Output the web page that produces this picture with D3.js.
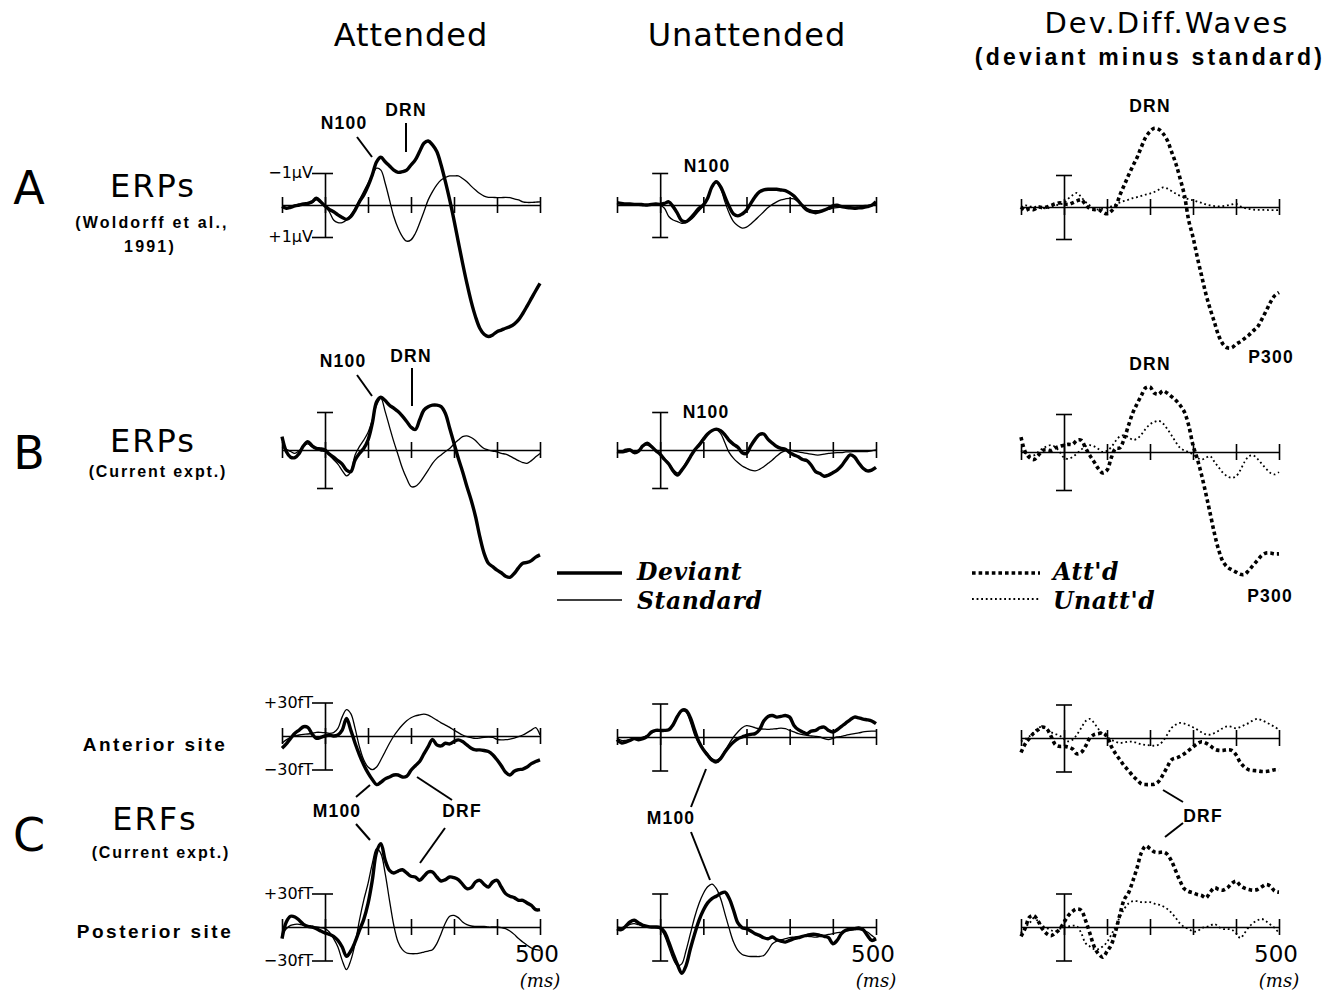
<!DOCTYPE html>
<html>
<head>
<meta charset="utf-8">
<script src="https://cdn.jsdelivr.net/npm/d3@7"></script>
<style>
  body { margin: 0; background: #fff; }
  svg text { fill: #000; }
</style>
</head>
<body>
<svg id="chart" width="1335" height="992"></svg>
<script>
// Sample times (ms) shared by every waveform, and the time-axis ticks
const times = [-100,-90,-80,-70,-60,-50,-40,-30,-20,-10,0,10,20,30,40,50,60,70,80,90,
  100,110,120,130,140,150,160,170,180,190,200,210,220,230,240,250,260,270,280,290,
  300,310,320,330,340,350,360,370,380,390,400,410,420,430,440,450,460,470,480,490,500];
const tickTimes = [-100, 0, 100, 200, 300, 400, 500];

const columnTitles = ["Attended", "Unattended"];

// Row A: ERPs (Woldorff et al., 1991), microvolts, negative up
const erpA_att_dev = [0.05,0.10,0.07,0.03,0,-0.03,-0.05,-0.10,-0.21,-0.10,
  0.03,0.14,0.21,0.31,0.39,0.45,0.36,0.16,-0.10,-0.31,
  -0.59,-0.94,-1.35,-1.49,-1.35,-1.22,-1.09,-1.02,-1.04,-1.09,
  -1.25,-1.41,-1.67,-1.93,-2.00,-1.88,-1.67,-1.25,-0.73,-0.16,
  0.47,1.15,1.82,2.45,3.02,3.49,3.85,4.04,4.11,4.06,
  3.96,3.91,3.85,3.80,3.72,3.59,3.39,3.16,2.92,2.68,2.45];
const erpA_att_std = [0.05,0.10,0.05,0,-0.03,0,-0.03,-0.07,-0.16,-0.07,
  0.03,0.21,0.47,0.55,0.55,0.47,0.31,0.10,-0.16,-0.42,
  -0.68,-0.94,-1.15,-1.09,-0.68,-0.16,0.36,0.73,0.99,1.13,
  1.09,0.89,0.57,0.21,-0.16,-0.42,-0.63,-0.78,-0.86,-0.91,
  -0.91,-0.91,-0.83,-0.73,-0.59,-0.47,-0.36,-0.28,-0.24,-0.24,
  -0.23,-0.23,-0.24,-0.23,-0.19,-0.16,-0.10,-0.08,-0.08,-0.09,-0.10];
const erpA_unatt_dev = [-0.07,-0.05,-0.03,-0.03,-0.02,-0.02,-0.01,0,-0.02,-0.03,
  -0.02,-0.05,-0.10,0.05,0.26,0.49,0.52,0.41,0.26,0.10,
  0,-0.21,-0.57,-0.73,-0.57,-0.26,0.05,0.28,0.34,0.28,
  0.16,-0.05,-0.26,-0.41,-0.47,-0.49,-0.49,-0.49,-0.47,-0.45,
  -0.38,-0.28,-0.13,0.03,0.16,0.21,0.24,0.21,0.16,0.10,
  0.03,0.01,0.05,0.07,0.09,0.10,0.09,0.08,0.05,0.01,-0.10];
const erpA_unatt_std = [-0.05,-0.03,-0.02,-0.02,-0.01,-0.01,0,0.01,0.01,0,
  0.01,0.10,0.36,0.47,0.52,0.57,0.55,0.47,0.34,0.18,
  0.03,-0.24,-0.57,-0.69,-0.52,-0.10,0.26,0.52,0.65,0.72,
  0.69,0.59,0.47,0.34,0.21,0.08,-0.02,-0.10,-0.16,-0.19,
  -0.21,-0.19,-0.10,0,0.10,0.16,0.18,0.17,0.16,0.14,
  0.10,0.08,0.07,0.05,0.04,0.03,0.03,0.02,0.01,0,0];
const erpA_diff_att = [0,0.10,0.05,0.08,0,0.02,0,-0.05,-0.10,-0.13,
  -0.10,-0.08,-0.13,-0.19,-0.23,-0.08,0.05,0.08,0.08,0.16,
  0.21,0.13,-0.02,-0.37,-0.68,-0.99,-1.28,-1.55,-1.88,-2.18,
  -2.36,-2.46,-2.43,-2.30,-2.09,-1.73,-1.36,-0.89,-0.37,0.42,
  0.94,1.57,2.15,2.72,3.19,3.61,4.03,4.29,4.40,4.40,
  4.29,4.21,4.11,4.00,3.87,3.75,3.51,3.25,2.98,2.77,2.67];
const erpA_diff_unatt = [0,-0.05,-0.02,0,-0.02,0.02,0.05,-0.02,-0.05,-0.08,
  -0.13,-0.26,-0.37,-0.44,-0.31,-0.16,-0.05,0.05,0.08,0.05,
  0.02,-0.02,-0.08,-0.14,-0.19,-0.23,-0.28,-0.31,-0.35,-0.39,
  -0.42,-0.47,-0.54,-0.61,-0.58,-0.50,-0.42,-0.35,-0.29,-0.24,
  -0.21,-0.17,-0.13,-0.08,-0.05,-0.03,-0.02,-0.03,-0.05,-0.08,
  -0.10,-0.02,0.03,0.06,0.08,0.09,0.09,0.09,0.10,0.10,0.10];

// Row B: ERPs (current experiment), microvolts, negative up
const erpB_att_dev = [-0.35,0.04,0.19,0.20,0.09,-0.11,-0.22,-0.11,-0.04,-0.03,
  0,0.11,0.19,0.28,0.37,0.53,0.57,0.26,0.09,-0.04,
  -0.26,-0.70,-1.27,-1.39,-1.30,-1.18,-1.10,-1.01,-0.89,-0.75,
  -0.60,-0.54,-0.79,-1.05,-1.14,-1.18,-1.18,-1.14,-0.96,-0.57,
  -0.18,0.22,0.57,0.96,1.32,1.75,2.28,2.72,2.98,3.07,
  3.16,3.23,3.32,3.35,3.25,3.10,2.98,2.96,2.91,2.82,2.76];
const erpB_att_std = [-0.07,-0.02,0.04,0.09,0.02,-0.11,-0.16,-0.09,-0.02,0.02,
  0.04,0.13,0.25,0.37,0.54,0.68,0.57,0.13,-0.09,-0.26,
  -0.46,-0.79,-1.18,-1.36,-1.01,-0.61,-0.22,0.13,0.48,0.75,
  0.96,0.96,0.86,0.70,0.53,0.35,0.22,0.13,0.04,-0.04,
  -0.16,-0.26,-0.35,-0.37,-0.33,-0.25,-0.13,-0.04,0,0.03,
  0.05,0.09,0.11,0.16,0.22,0.28,0.33,0.35,0.28,0.18,0.09];
const erpB_unatt_dev = [0.04,0.05,0.03,0,0.07,0.03,-0.11,-0.18,-0.09,0.02,
  0.11,0.25,0.37,0.55,0.66,0.53,0.37,0.18,0,-0.13,
  -0.28,-0.42,-0.51,-0.55,-0.51,-0.40,-0.25,-0.15,-0.07,0.07,
  0.09,-0.11,-0.28,-0.41,-0.42,-0.28,-0.18,-0.09,-0.04,-0.02,
  0.07,0.13,0.18,0.25,0.28,0.40,0.57,0.62,0.69,0.66,
  0.60,0.53,0.42,0.26,0.13,0.18,0.34,0.48,0.55,0.53,0.46];
const erpB_unatt_std = [0.04,0.03,-0.02,-0.02,0.04,0,-0.11,-0.13,-0.07,0.02,
  0.11,0.22,0.35,0.51,0.60,0.51,0.33,0.16,0,-0.16,
  -0.31,-0.44,-0.51,-0.53,-0.44,-0.19,0.07,0.22,0.33,0.42,
  0.48,0.53,0.55,0.51,0.44,0.35,0.26,0.16,0.07,0.02,
  0,0.03,0.05,0.07,0.09,0.11,0.13,0.13,0.11,0.09,
  0.08,0.07,0.07,0.05,0.05,0.04,0.04,0.04,0.04,0.02,0];
const erpB_diff_att = [-0.39,0,0.15,0.20,0.09,-0.04,-0.06,-0.04,-0.11,-0.15,
  -0.18,-0.20,-0.20,-0.31,-0.31,-0.11,0.09,0.26,0.44,0.55,
  0.48,0.15,-0.09,-0.11,-0.35,-0.70,-1.03,-1.27,-1.49,-1.69,
  -1.71,-1.55,-1.52,-1.61,-1.55,-1.46,-1.36,-1.23,-1.05,-0.70,
  -0.18,0.18,0.61,1.10,1.62,2.15,2.59,2.89,3.03,3.10,
  3.16,3.22,3.22,3.11,2.98,2.85,2.72,2.66,2.66,2.68,2.68];
const erpB_diff_unatt = [-0.04,0.03,0.09,0.09,0,-0.09,-0.15,-0.18,-0.13,0,
  0.15,0.18,0.13,0.04,-0.06,-0.15,-0.18,-0.15,-0.08,0,
  -0.03,-0.13,-0.29,-0.41,-0.44,-0.39,-0.32,-0.35,-0.46,-0.61,
  -0.73,-0.79,-0.82,-0.75,-0.61,-0.44,-0.26,-0.11,-0.04,0,
  0.06,0.15,0.20,0.15,0.11,0.26,0.41,0.55,0.64,0.68,
  0.64,0.48,0.26,0.11,0.09,0.18,0.31,0.44,0.55,0.59,0.53];

// Row C: ERFs (current experiment), femtotesla, positive up — anterior site
const erfAnt_att_dev = [-10.9,-7.1,-2.1,2.4,5.3,8.3,7.7,1.8,-2.1,-1.2,
  0,0.9,0,0.9,5.3,15.7,5.3,-6.5,-16.8,-25.7,
  -33.1,-39.0,-43.5,-41.4,-38.4,-36.7,-34.9,-34.9,-36.7,-36.1,
  -30.7,-26.6,-22.8,-16.0,-9.5,-3.0,-8.0,-8.9,-6.5,-7.1,
  -5.0,-3.5,-5.0,-8.0,-10.9,-12.4,-12.4,-13.0,-13.9,-16.8,
  -21.3,-26.6,-32.5,-34.9,-31.6,-30.2,-29.6,-27.8,-24.8,-22.8,-21.3];
const erfAnt_att_std = [-6.5,-3.5,-1.2,0,0.9,1.5,1.8,2.4,3.3,3.3,
  3.0,2.4,3.0,6.8,17.1,23.6,20.1,6.8,-9.5,-21.3,
  -27.8,-30.2,-27.8,-21.3,-13.9,-6.5,0,5.3,9.8,13.6,
  16.3,18.0,18.9,19.5,18.6,16.6,14.2,11.8,9.8,7.7,
  5.3,3.0,0.9,-0.6,-1.5,-2.1,-1.8,-1.2,-0.9,-1.2,
  -3.0,-3.5,-3.3,-2.7,-1.8,-0.6,0.9,3.0,5.3,7.4,0.9];
const erfAnt_unatt_dev = [-2.4,-5.3,-4.5,-3.0,-1.5,-2.4,-1.5,0.6,4.5,5.9,
  5.9,5.9,6.5,11.0,18.4,23.8,23.8,17.2,5.9,-4.5,
  -11.3,-16.3,-20.8,-22.3,-19.3,-13.4,-8.3,-4.5,-1.5,0,
  1.5,2.4,3.0,6.5,14.3,18.4,19.3,17.8,18.4,19.3,
  17.8,10.4,6.5,4.5,3.0,5.3,5.9,8.3,8.9,5.9,
  4.5,6.5,9.5,12.5,15.4,17.8,17.2,16.0,15.4,14.3,11.9];
const erfAnt_unatt_std = [-0.6,-3.0,-3.0,-2.4,-1.5,-0.9,0,1.5,3.6,5.3,
  5.9,5.9,6.5,11.9,19.3,23.8,22.3,13.4,1.5,-5.9,
  -10.4,-14.9,-19.3,-20.8,-18.4,-12.5,-5.9,0,4.5,8.3,
  10.1,9.5,8.3,7.4,7.1,6.8,7.1,7.4,8.0,7.4,
  5.9,4.5,3.0,2.1,1.5,0.9,0.6,0,-1.5,-2.4,
  -1.2,0,0.6,1.5,2.4,3.0,3.6,4.5,5.0,5.3,5.3];
const erfAnt_diff_att = [-12.9,-5.1,0,4.5,7.5,9.9,8.1,1.5,-6.0,-7.5,
  -7.5,-8.1,-9.9,-14.1,-12.9,-7.5,0,3.0,3.9,4.5,
  1.5,-7.5,-14.1,-19.5,-24.9,-29.1,-33.9,-37.5,-41.1,-41.7,
  -41.7,-41.4,-39.0,-33.0,-26.1,-19.5,-18.0,-16.5,-14.1,-11.1,
  -8.1,-5.1,-3.3,-4.5,-6.9,-9.9,-11.1,-11.1,-10.5,-11.1,
  -15.0,-21.9,-26.1,-28.5,-29.1,-29.4,-30.0,-30.0,-29.4,-28.5,-28.5];
const erfAnt_diff_unatt = [-3.0,-0.9,1.5,5.1,9.0,9.9,7.5,5.1,3.6,2.1,
  -0.9,-3.0,-1.5,3.0,9.0,15.0,17.1,13.5,8.1,3.9,
  0.9,-1.5,-3.3,-4.5,-3.9,-3.3,-3.3,-4.5,-5.7,-6.3,
  -6.6,-6.9,-6.0,-3.0,3.0,9.0,12.0,13.5,12.9,11.4,
  9.6,7.5,5.1,3.3,3.0,4.5,6.6,9.0,10.5,9.9,
  8.7,9.9,11.7,13.5,15.9,17.1,15.9,14.1,12.0,9.9,7.5];

// Row C: posterior site
const erfPost_att_dev = [-10.4,4.5,9.6,9.0,6.0,2.4,0.6,0,-1.5,-3.6,
  -5.4,-6.6,-8.4,-11.9,-17.9,-26.3,-21.5,-13.4,-3.0,6.6,
  20.9,41.8,67.2,74.6,59.7,50.7,48.4,50.1,51.3,48.4,
  45.4,44.8,41.8,45.4,49.3,49.3,44.8,41.2,42.4,44.8,
  44.2,42.4,38.2,34.3,35.2,40.3,41.8,38.2,35.8,40.3,
  41.8,35.8,29.9,27.5,26.3,23.9,23.9,21.5,19.4,15.5,15.5];
const erfPost_att_std = [-6.6,-1.5,1.5,2.4,2.4,1.5,0.6,0,0,-0.6,
  -1.5,-4.5,-10.4,-17.9,-29.9,-38.2,-29.9,-14.9,6.0,23.9,
  38.8,56.7,70.1,65.7,47.8,23.9,1.5,-13.4,-20.3,-23.3,
  -23.9,-23.9,-23.3,-22.4,-21.5,-20.3,-14.9,-6.0,3.6,9.6,
  10.4,8.4,4.5,2.1,0.9,0.6,0.6,0.6,0,0,
  0,-0.6,-1.5,-3.6,-6.6,-10.4,-13.4,-16.4,-18.8,-20.3,-20.9];
const erfPost_unatt_dev = [-1.5,-2.4,0.6,4.5,6.0,3.6,1.5,0.6,0,0,
  -0.6,-4.5,-13.5,-24.0,-33.6,-41.4,-34.5,-19.5,-6.0,6.0,
  15.0,21.6,25.5,27.6,30.0,31.2,25.5,15.0,3.6,-0.6,
  -1.5,-3.6,-6.0,-7.5,-9.6,-10.5,-9.0,-11.4,-12.6,-13.5,
  -12.0,-10.5,-9.6,-8.4,-7.5,-6.6,-6.6,-7.5,-8.4,-9.6,
  -15.0,-12.0,-6.0,-3.0,-1.8,-1.5,-0.9,-2.4,-7.5,-12.0,-10.5];
const erfPost_unatt_std = [0,-0.6,0.6,2.4,3.0,2.1,1.2,0.6,0,-0.6,
  -1.5,-7.5,-18.0,-28.5,-34.5,-33.0,-21.0,-6.0,9.0,21.0,
  30.0,36.0,38.4,34.5,25.5,12.0,-1.5,-13.5,-21.0,-24.6,
  -25.8,-26.4,-26.4,-26.4,-25.5,-21.0,-15.0,-12.6,-11.4,-10.5,
  -9.6,-9.0,-8.4,-8.4,-8.4,-8.7,-9.0,-8.4,-7.5,-6.6,
  -6.0,-5.1,-4.5,-3.6,-3.0,-2.4,-2.4,-3.0,-4.5,-7.5,-10.5];
const erfPost_diff_att = [-8.4,-0.9,9.0,10.2,5.1,-1.8,-6.0,-7.8,-5.4,-1.8,
  4.2,10.2,14.1,16.2,15.0,6.0,-5.4,-17.4,-24.0,-27.0,
  -21.9,-15.9,-3.9,11.1,24.6,30.6,41.1,53.1,66.6,72.6,
  70.2,67.2,66.6,67.2,65.1,59.1,50.1,41.1,34.2,31.8,
  30.6,29.1,28.2,26.1,31.2,35.1,33.6,33.0,35.1,39.0,
  41.1,37.2,34.8,33.6,33.0,33.6,36.0,38.1,36.6,32.1,31.2];
const erfPost_diff_unatt = [-5.4,0,3.6,8.1,5.1,1.2,-0.9,-3.0,-3.9,-1.8,
  0,0.6,1.2,0.6,-5.4,-14.4,-17.4,-19.8,-19.8,-17.4,
  -13.5,-6.9,0.6,9.0,16.2,21.0,23.1,23.1,22.2,22.2,
  22.2,21.0,20.1,18.6,16.2,12.6,8.1,3.0,0,-1.8,
  -3.9,-3.9,-0.9,0,1.2,2.7,0,-1.8,-1.8,-2.4,
  -5.4,-9.9,-5.4,0,3.6,6.0,7.2,5.1,2.1,-0.9,-5.4];

// ---------------------------------------------------------------------------
const svg = d3.select("#chart");
const SANS = "'DejaVu Sans', sans-serif";
const BOLD = "'Liberation Sans', Arial, sans-serif";
const SERIF = "'DejaVu Serif', serif";

// Horizontal extents of the three columns
const columns = [
  { x0: 282, x1: 540 },
  { x0: 617, x1: 876 },
  { x0: 1021, x1: 1279 }
];

// Vertical layout of the four panel rows (baseline per column, half-height of calibration bar)
const rows = [
  { unit: "uV", base: [205, 205, 207], half: 32,   cal: 1 },
  { unit: "uV", base: [450, 450, 452], half: 38,   cal: 1 },
  { unit: "fT", base: [736, 737, 738], half: 33.5, cal: 30 },
  { unit: "fT", base: [927, 927, 927], half: 33.5, cal: 30 }
];

const styles = {
  dev:   { width: 3.4, dash: null },
  std:   { width: 1.3, dash: null },
  att:   { width: 3.6, dash: "3.6,3" },
  unatt: { width: 1.8, dash: "1.8,2.8" }
};

const panels = [
  { row: 0, col: 0, series: [[erpA_att_std, "std"], [erpA_att_dev, "dev"]] },
  { row: 0, col: 1, series: [[erpA_unatt_std, "std"], [erpA_unatt_dev, "dev"]] },
  { row: 0, col: 2, series: [[erpA_diff_unatt, "unatt"], [erpA_diff_att, "att"]] },
  { row: 1, col: 0, series: [[erpB_att_std, "std"], [erpB_att_dev, "dev"]] },
  { row: 1, col: 1, series: [[erpB_unatt_std, "std"], [erpB_unatt_dev, "dev"]] },
  { row: 1, col: 2, series: [[erpB_diff_unatt, "unatt"], [erpB_diff_att, "att"]] },
  { row: 2, col: 0, series: [[erfAnt_att_std, "std"], [erfAnt_att_dev, "dev"]] },
  { row: 2, col: 1, series: [[erfAnt_unatt_std, "std"], [erfAnt_unatt_dev, "dev"]] },
  { row: 2, col: 2, series: [[erfAnt_diff_unatt, "unatt"], [erfAnt_diff_att, "att"]] },
  { row: 3, col: 0, series: [[erfPost_att_std, "std"], [erfPost_att_dev, "dev"]] },
  { row: 3, col: 1, series: [[erfPost_unatt_std, "std"], [erfPost_unatt_dev, "dev"]] },
  { row: 3, col: 2, series: [[erfPost_diff_unatt, "unatt"], [erfPost_diff_att, "att"]] }
];

panels.forEach(p => {
  const c = columns[p.col], r = rows[p.row];
  const base = r.base[p.col];
  const x = d3.scaleLinear().domain([-100, 500]).range([c.x0, c.x1]);
  // EEG plotted negative-up; MEG plotted positive-up
  const y = r.unit === "uV"
    ? d3.scaleLinear().domain([-r.cal, r.cal]).range([base - r.half, base + r.half])
    : d3.scaleLinear().domain([-r.cal, r.cal]).range([base + r.half, base - r.half]);

  const g = svg.append("g");

  // time axis with ticks crossing the baseline
  const xa = g.append("g").attr("transform", `translate(0,${y(0)})`)
    .call(d3.axisBottom(x).tickValues(tickTimes).tickSize(8).tickSizeOuter(0).tickFormat(""));
  xa.select(".domain").attr("stroke-width", 1.6);
  xa.selectAll(".tick line").attr("y1", -8).attr("stroke-width", 1.6);

  // calibration bar at stimulus onset
  const capL = (p.col === 0 && (p.row === 0 || p.row >= 2)) ? 13 : 8;
  const ya = g.append("g").attr("transform", `translate(${x(0)},0)`)
    .call(d3.axisLeft(y).tickValues([-r.cal, r.cal]).tickSize(capL).tickSizeOuter(0).tickFormat(""));
  ya.select(".domain").attr("stroke-width", 1.6);
  ya.selectAll(".tick line").attr("x1", 8).attr("stroke-width", 1.6);

  const line = d3.line()
    .x((d, i) => x(times[i]))
    .y(d => y(d))
    .curve(d3.curveCatmullRom.alpha(0.5));

  p.series.forEach(([vals, kind]) => {
    const s = styles[kind];
    g.append("path")
      .datum(vals)
      .attr("d", line)
      .attr("fill", "none")
      .attr("stroke", "#000")
      .attr("stroke-width", s.width)
      .attr("stroke-linejoin", "round")
      .attr("stroke-dasharray", s.dash);
  });

  // unit labels on the first column
  if (p.col === 0 && p.row !== 1) {
    const top = r.unit === "uV" ? "\u22121\u00b5V" : "+30fT";
    const bot = r.unit === "uV" ? "+1\u00b5V" : "\u221230fT";
    const yTop = r.unit === "uV" ? y(-r.cal) : y(r.cal);
    const yBot = r.unit === "uV" ? y(r.cal) : y(-r.cal);
    [[top, yTop], [bot, yBot]].forEach(([t, yy]) => {
      g.append("text").attr("x", x(0) - 12).attr("y", yy + 5)
        .attr("text-anchor", "end").attr("font-family", SANS)
        .attr("font-size", 16).text(t);
    });
  }

  // time-scale label under the bottom row
  if (p.row === 3) {
    g.append("text").attr("x", x(500) - 3).attr("y", 962)
      .attr("text-anchor", "middle").attr("font-family", SANS)
      .attr("font-size", 23).text("500");
    g.append("text").attr("x", x(500)).attr("y", 987)
      .attr("text-anchor", "middle").attr("font-family", SERIF)
      .attr("font-style", "italic").attr("font-size", 18).text("(ms)");
  }
});

// ---------------------------------------------------------------------------
// Column and row headings
function txt(x, y, s, size, opts = {}) {
  return svg.append("text").attr("x", x).attr("y", y)
    .attr("text-anchor", opts.anchor || "middle")
    .attr("font-family", opts.family || SANS)
    .attr("font-size", size)
    .attr("font-weight", opts.weight || "normal")
    .attr("font-style", opts.style || "normal")
    .attr("letter-spacing", opts.ls || 0)
    .text(s);
}

txt(411, 46, columnTitles[0], 32, { ls: 1 });
txt(747, 46, columnTitles[1], 32, { ls: 1 });
txt(1167, 33, "Dev.Diff.Waves", 29, { ls: 2 });
txt(1150, 65, "(deviant minus standard)", 23, { family: BOLD, weight: "bold", ls: 3.2 });

txt(29, 204, "A", 46);
txt(29, 469, "B", 46);
txt(29, 851, "C", 46);

const small = { family: BOLD, weight: "bold", ls: 2.2 };
txt(153, 197, "ERPs", 32, { ls: 2 });
txt(152, 228, "(Woldorff et al.,", 16, small);
txt(150, 252, "1991)", 16, small);

txt(153, 452, "ERPs", 32, { ls: 2 });
txt(158, 477, "(Current expt.)", 16, { family: BOLD, weight: "bold", ls: 1.9 });

const site = { family: BOLD, weight: "bold", ls: 2.5 };
txt(155, 751, "Anterior site", 19, site);
txt(155, 830, "ERFs", 32, { ls: 2 });
txt(161, 858, "(Current expt.)", 16, { family: BOLD, weight: "bold", ls: 1.9 });
txt(155, 938, "Posterior site", 19, site);

// Component labels and their leader lines
const compLabels = [
  ["N100", 344, 129], ["DRN", 406, 116], ["N100", 707, 172],
  ["DRN", 1150, 112], ["P300", 1271, 363],
  ["N100", 343, 367], ["DRN", 411, 362], ["N100", 706, 418],
  ["DRN", 1150, 370], ["P300", 1270, 602],
  ["M100", 337, 817], ["DRF", 462, 817], ["M100", 671, 824], ["DRF", 1203, 822]
];
compLabels.forEach(([s, x, y]) => txt(x, y, s, 17.5, { family: BOLD, weight: "bold", ls: 1.2 }));

const leaders = [
  [357, 137, 372, 157], [406, 123, 406, 152],
  [357, 375, 372, 396], [412, 368, 412, 406],
  [370, 785, 356, 797], [356, 824, 370, 840], [417, 777, 452, 800], [445, 828, 420, 863],
  [706, 769, 691, 807], [691, 832, 710, 880],
  [1163, 790, 1183, 802], [1183, 823, 1165, 837]
];
svg.append("g").selectAll("line").data(leaders).join("line")
  .attr("x1", d => d[0]).attr("y1", d => d[1])
  .attr("x2", d => d[2]).attr("y2", d => d[3])
  .attr("stroke", "#000").attr("stroke-width", 2);

// Legends
const legendLeft = [["Deviant", "dev", 573, 580], ["Standard", "std", 600, 609]];
legendLeft.forEach(([s, k, ly, ty]) => {
  svg.append("line").attr("x1", 557).attr("x2", 622).attr("y1", ly).attr("y2", ly)
    .attr("stroke", "#000").attr("stroke-width", styles[k].width);
  txt(637, ty, s, 23.5, { anchor: "start", family: SERIF, style: "italic", weight: "bold", ls: 0.6 });
});
const legendRight = [["Att'd", "att", 573, 580], ["Unatt'd", "unatt", 599, 609]];
legendRight.forEach(([s, k, ly, ty]) => {
  svg.append("line").attr("x1", 972).attr("x2", 1040).attr("y1", ly).attr("y2", ly)
    .attr("stroke", "#000").attr("stroke-width", styles[k].width)
    .attr("stroke-dasharray", styles[k].dash);
  txt(1053, ty, s, 23.5, { anchor: "start", family: SERIF, style: "italic", weight: "bold", ls: 0.6 });
});
</script>
</body>
</html>
